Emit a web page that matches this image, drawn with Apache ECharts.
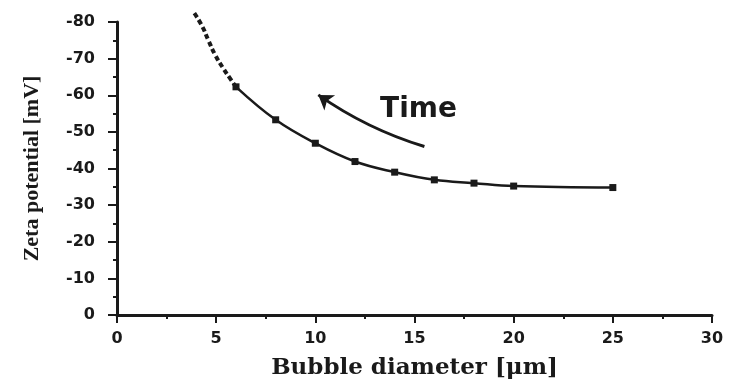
<!DOCTYPE html>
<html><head><meta charset="utf-8">
<script src="https://cdn.jsdelivr.net/npm/echarts@6/dist/echarts.min.js"></script>
<style>html,body{margin:0;padding:0;background:#fff}#c{width:732px;height:380px}</style>
</head><body><div id="c"></div>
<script>
const diam = [6, 8, 10, 12, 14, 16, 18, 20, 25];
const zeta = [-62.3, -53.3, -46.9, -41.9, -39, -36.9, -36, -35.2, -34.8];
const extDiam = [3.9, 4.3, 4.6, 4.95, 5.35, 5.7, 6];
const extZeta = [-82.4, -78.8, -75.1, -71, -67.4, -64.6, -62.3];
const arrowFrom = [15.5, -46];
const arrowTo = [10.15, -60.1];
const noteText = 'Time';
const notePos = [15.2, -56];
const xName = 'Bubble diameter [μm]';
const yName = 'Zeta potential [mV]';

const ink = '#1a1a1a';
const chart = echarts.init(document.getElementById('c'));
chart.setOption({
  animation: false,
  backgroundColor: '#fff',
  grid: { left: 117, right: 20, top: 22, bottom: 65, containLabel: false, outerBoundsMode: 'none' },
  xAxis: {
    type: 'value', min: 0, max: 30, interval: 5,
    name: xName, nameLocation: 'middle', nameGap: 42,
    nameTextStyle: { fontFamily: 'DejaVu Serif', fontWeight: 'bold', fontSize: 23, color: ink },
    axisLine: { lineStyle: { color: ink, width: 3 } },
    axisTick: { length: 8, lineStyle: { color: ink, width: 2 } },
    minorTick: { show: true, splitNumber: 2, length: 4, lineStyle: { color: ink, width: 2 } },
    axisLabel: { margin: 16, fontFamily: 'DejaVu Sans', fontWeight: 'bold', fontSize: 16, color: ink },
    splitLine: { show: false }
  },
  yAxis: {
    type: 'value', min: -80, max: 0, interval: 10, inverse: true,
    name: yName, nameLocation: 'middle', nameGap: 74, nameRotate: 90,
    nameTextStyle: { fontFamily: 'Liberation Serif', fontWeight: 'bold', fontSize: 22, color: ink },
    axisLine: { lineStyle: { color: ink, width: 3 } },
    axisTick: { length: 9, lineStyle: { color: ink, width: 2 } },
    minorTick: { show: true, splitNumber: 2, length: 4, lineStyle: { color: ink, width: 2 } },
    axisLabel: { margin: 22, fontFamily: 'DejaVu Sans', fontWeight: 'bold', fontSize: 16, color: ink },
    splitLine: { show: false }
  },
  series: [
    {
      type: 'line', data: extDiam.map((x, i) => [x, extZeta[i]]),
      smooth: true, clip: false, showSymbol: false,
      lineStyle: { color: ink, width: 4, type: [5, 3] }
    },
    {
      type: 'line', data: diam.map((x, i) => [x, zeta[i]]),
      smooth: 0.4, clip: false, symbol: 'rect', symbolSize: 7,
      itemStyle: { color: ink }, lineStyle: { color: ink, width: 2.5 }
    },
    {
      type: 'lines', coordinateSystem: 'cartesian2d',
      symbol: ['none', 'arrow'], symbolSize: 14,
      lineStyle: { color: ink, width: 3, curveness: 0.08, opacity: 1 },
      data: [{ coords: [arrowFrom, arrowTo] }]
    },
    {
      type: 'scatter', symbolSize: 0, data: [notePos],
      itemStyle: { opacity: 1 },
      label: { show: true, position: 'inside', formatter: noteText,
        fontFamily: 'DejaVu Sans', fontWeight: 'bold', fontSize: 28, color: ink }
    }
  ]
});
</script></body></html>
